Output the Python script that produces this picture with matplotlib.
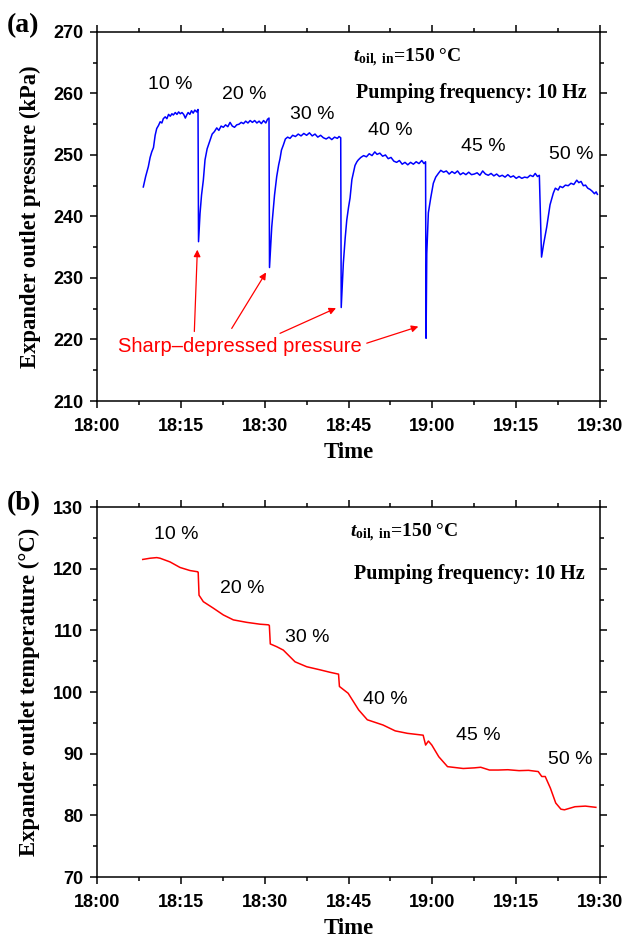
import matplotlib
matplotlib.use("Agg")
import matplotlib.pyplot as plt
from matplotlib.ticker import FixedLocator, MultipleLocator

# --- Data (minutes after 18:00) ---
p_time = [8.28, 8.7, 9.18, 9.5, 9.79, 10.1, 10.4, 10.68, 11.0, 11.3, 11.6, 11.86, 12.2, 12.5, 12.8, 13.1,
          13.4, 13.65, 14.0, 14.3, 14.6, 14.9, 15.2, 15.5, 15.8, 16.05, 16.3, 16.6, 16.9, 17.2, 17.5, 17.84, 18.07,
          18.16, 18.43, 18.7, 19.02, 19.32, 19.7, 20.22, 20.6, 21.0, 21.42, 21.8, 22.2, 22.6, 23.0, 23.4, 23.8,
          24.2, 24.6, 25.0, 25.4, 25.8, 26.2, 26.6, 27.0, 27.4, 27.8, 28.2, 28.6, 29.0, 29.4, 29.8, 30.2, 30.5, 30.77,
          30.86, 31.26, 31.76, 32.15, 32.5, 32.74, 33.0, 33.33, 33.7, 34.1, 34.53, 35.0, 35.5, 36.0, 36.5, 37.0,
          37.5, 38.0, 38.5, 39.0, 39.5, 40.0, 40.5, 41.0, 41.5, 42.0, 42.5, 43.0, 43.3, 43.6,
          43.69, 44.07, 44.4, 44.68, 45.0, 45.27, 45.6, 46.16, 46.5, 46.75, 47.2, 47.7, 48.2, 48.7, 49.2, 49.7,
          50.1, 50.6, 51.1, 51.6, 52.1, 52.6, 53.1, 53.6, 54.1, 54.6, 55.1, 55.6, 56.1, 56.6, 57.1, 57.6, 58.1,
          58.5, 58.78,
          58.87, 59.0, 59.28, 59.7, 60.17, 60.6, 61.07, 61.5, 62.0, 62.5, 63.0, 63.5, 64.0, 64.5, 65.0, 65.5,
          66.0, 66.5, 67.0, 67.5, 68.0, 68.5, 69.0, 69.5, 70.0, 70.5, 71.0, 71.5, 72.0, 72.5, 73.0, 73.5, 74.0,
          74.5, 75.0, 75.5, 76.0, 76.5, 77.0, 77.5, 78.0, 78.4, 78.8, 79.14,
          79.53, 79.9, 80.46, 81.05, 81.64, 82.0, 82.5, 82.84, 83.3, 83.8, 84.3, 84.8, 85.3, 85.83, 86.2, 86.6,
          87.01, 87.4, 87.8, 88.21, 88.6, 89.0, 89.3, 89.52]
pressure = [244.8, 246.5, 248.1, 249.6, 250.5, 251.2, 253.2, 254.3, 254.8, 255.4, 255.2, 255.9, 256.2, 255.9, 256.6, 256.3,
            256.7, 256.5, 256.9, 256.6, 257.0, 256.7, 256.9, 256.6, 256.0, 256.5, 256.9, 256.6, 257.2, 256.8, 257.3, 257.0, 257.4,
            235.9, 240.5, 243.5, 245.9, 249.2, 251.0, 252.4, 253.4, 253.8, 254.4, 254.0, 254.7, 254.5, 254.9, 254.6, 255.3,
            254.7, 254.5, 254.9, 255.0, 255.3, 255.1, 255.5, 255.2, 255.6, 255.3, 255.6, 255.2, 255.5, 255.1, 255.6, 255.2, 255.8, 256.0,
            231.7, 238.3, 243.5, 246.5, 248.4, 249.4, 250.8, 251.6, 252.6, 252.9, 252.7, 253.2, 253.0, 253.4, 253.1, 253.5,
            253.2, 253.6, 253.1, 253.4, 252.9, 253.2, 252.8, 252.6, 252.9, 252.5, 252.9, 252.7, 253.0, 252.8,
            225.2, 232.4, 236.5, 239.4, 241.5, 243.0, 246.0, 248.3, 248.9, 249.2, 249.6, 249.9, 249.7, 250.2, 249.9, 250.5,
            250.1, 250.3, 249.8, 250.0, 249.4, 249.6, 249.0, 248.8, 249.1, 248.5, 248.8, 248.4, 248.8, 248.5, 248.9, 248.6, 249.1,
            248.6, 248.9,
            220.2, 234.0, 240.6, 243.0, 245.4, 246.4, 247.0, 247.5, 247.2, 247.4, 246.9, 247.3, 247.0, 247.4, 246.8, 247.1,
            246.8, 247.2, 246.8, 246.9, 247.1, 246.7, 247.4, 246.9, 246.7, 247.0, 246.6, 246.9, 246.5, 246.7, 246.4, 246.8, 246.4,
            246.6, 246.2, 246.5, 246.2, 246.4, 246.3, 246.7, 246.5, 247.0, 246.5, 246.7,
            233.4, 235.5, 238.3, 241.9, 243.8, 244.6, 244.3, 244.9, 244.7, 245.1, 245.0, 245.4, 245.2, 245.9, 245.5, 245.7,
            245.0, 245.1, 244.6, 244.4, 244.1, 243.7, 244.0, 243.6]

t_time = [8.18, 9.5, 10.68, 11.27, 13.06, 14.85, 16.64, 18.02, 18.1, 18.25, 19.02, 20.81, 22.6, 24.39,
          26.78, 29.16, 30.65, 30.83, 31.0, 32.15, 33.33, 35.43, 37.52, 39.9, 41.69, 43.21, 43.37,
          44.93, 46.81, 48.36, 51.17, 53.35, 55.54, 58.35, 58.79, 59.29, 59.9, 61.15, 62.71, 65.52,
          67.5, 68.65, 70.21, 71.77, 73.5, 75.51, 77.2, 78.94, 79.57, 80.19, 81.12, 82.07, 83.0, 83.63,
          85.51, 87.37, 89.25]
temperature = [121.5, 121.7, 121.8, 121.7, 121.1, 120.2, 119.7, 119.5, 119.4, 115.7, 114.65, 113.6, 112.5, 111.7,
               111.3, 111.0, 110.9, 110.8, 107.8, 107.35, 106.8, 104.9, 104.1, 103.6, 103.2, 102.9, 100.9,
               99.8, 97.1, 95.5, 94.65, 93.7, 93.3, 93.0, 91.4, 92.05, 91.4, 89.5, 87.9, 87.6,
               87.7, 87.8, 87.35, 87.35, 87.4, 87.25, 87.3, 87.1, 86.3, 86.3, 84.4, 82.0, 81.0, 80.9,
               81.4, 81.5, 81.3]

x_ticks = [0, 15, 30, 45, 60, 75, 90]
x_labels = ["18:00", "18:15", "18:30", "18:45", "19:00", "19:15", "19:30"]

ratio_labels = ["10 %", "20 %", "30 %", "40 %", "45 %", "50 %"]
p_label_x = [13.1, 26.3, 38.5, 52.4, 69.1, 84.8]
p_label_y = [261.4, 259.8, 256.6, 254.0, 251.4, 250.0]
t_label_x = [14.1, 26.0, 37.6, 51.5, 68.3, 84.6]
t_label_y = [125.5, 116.8, 108.9, 98.8, 93.0, 89.0]

# arrows from the red note to the pressure dips
arrow_tail_t = [17.41, 24.10, 32.74, 48.26]
arrow_tail_p = [221.3, 221.8, 221.0, 219.4]
arrow_head_t = [17.95, 30.24, 42.76, 57.49]
arrow_head_p = [234.6, 230.9, 225.1, 222.1]

SANS = "Liberation Sans"
SERIF = "Liberation Serif"
plt.rcParams["mathtext.fontset"] = "custom"
plt.rcParams["mathtext.it"] = "Liberation Serif:italic:bold"
plt.rcParams["mathtext.rm"] = "Liberation Serif:bold"

fig = plt.figure(figsize=(6.28, 9.40), dpi=100)
ax1 = fig.add_axes([0.1545, 0.5734, 0.801, 0.3926])
ax2 = fig.add_axes([0.1545, 0.0670, 0.801, 0.3936])


def style_axis(ax, ylim, ylabel, toil_xy, pump_xy):
    ax.set_xlim(0, 90)
    ax.set_ylim(*ylim)
    ax.xaxis.set_major_locator(FixedLocator(x_ticks))
    ax.set_xticklabels(x_labels)
    ax.xaxis.set_minor_locator(MultipleLocator(7.5))
    ax.yaxis.set_major_locator(MultipleLocator(10))
    ax.yaxis.set_minor_locator(MultipleLocator(5))
    ax.tick_params(which="both", direction="out", top=True, right=True, width=1.1)
    ax.tick_params(which="major", length=5)
    ax.tick_params(which="minor", length=3.2)
    ax.tick_params(axis="x", which="major", pad=7)
    ax.tick_params(axis="y", which="major", pad=5)
    for lab in ax.get_xticklabels() + ax.get_yticklabels():
        lab.set_fontfamily(SANS)
        lab.set_fontweight("bold")
        lab.set_fontsize(13)
    for s in ax.spines.values():
        s.set_linewidth(1.1)
    ax.set_xlabel("Time", fontfamily=SERIF, fontweight="bold", fontsize=16.5, labelpad=5)
    ax.set_ylabel(ylabel, fontfamily=SERIF, fontweight="bold", fontsize=16.3, labelpad=9)
    ax.text(*toil_xy, r"$\mathit{t}_{\mathrm{oil,\ in}}$=150 °C", transform=ax.transAxes,
            fontfamily=SERIF, fontweight="bold", fontsize=14, ha="left", va="baseline")
    ax.text(*pump_xy, "Pumping frequency: 10 Hz", transform=ax.transAxes,
            fontfamily=SERIF, fontweight="bold", fontsize=14.5, ha="left", va="baseline")


# --- (a) pressure ---
ax1.plot(p_time, pressure, color="#0000ff", lw=1.1)
style_axis(ax1, (210, 270), "Expander outlet pressure (kPa)", (0.509, 0.918), (0.514, 0.822))
for x, y, s in zip(p_label_x, p_label_y, ratio_labels):
    ax1.text(x, y, s, fontfamily=SANS, fontsize=14, ha="center", va="center")
for tt, tp, ht, hp in zip(arrow_tail_t, arrow_tail_p, arrow_head_t, arrow_head_p):
    ax1.annotate("", xy=(ht, hp), xytext=(tt, tp),
                 arrowprops=dict(arrowstyle="-|>", color="#ff0000", lw=0.9,
                                 mutation_scale=10, shrinkA=0, shrinkB=0))
ax1.text(25.6, 218.9, "Sharp\u2013depressed pressure", color="#ff0000",
         fontfamily=SANS, fontsize=14.5, ha="center", va="center")
fig.text(0.010, 0.966, "(a)", fontfamily=SERIF, fontweight="bold", fontsize=20, va="baseline")

# --- (b) temperature ---
ax2.plot(t_time, temperature, color="#ff0000", lw=1.1)
style_axis(ax2, (70, 130), "Expander outlet temperature (°C)", (0.503, 0.919), (0.511, 0.805))
for x, y, s in zip(t_label_x, t_label_y, ratio_labels):
    ax2.text(x, y, s, fontfamily=SANS, fontsize=14, ha="center", va="center")
fig.text(0.010, 0.457, "(b)", fontfamily=SERIF, fontweight="bold", fontsize=20, va="baseline")

fig.savefig("out.png", dpi=100)
